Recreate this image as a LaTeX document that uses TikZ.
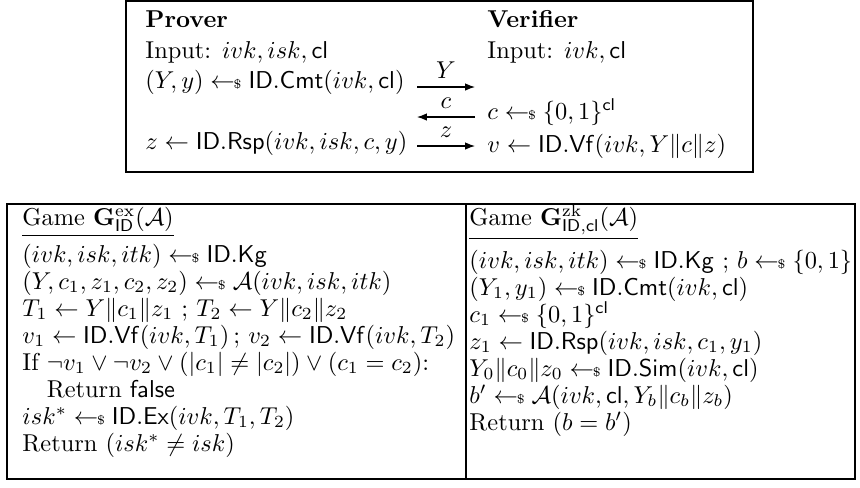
\documentclass[tikz,border=0pt]{standalone}
\usetikzlibrary{positioning,arrows.meta}
\newcommand{\smp}{\mathrel{\leftarrow\!\!{\scriptscriptstyle\$}}}
\newcommand{\alg}[1]{\mathsf{#1}}

\begin{document}
\begin{tikzpicture}[x=0.41pt, y=-0.41pt, >={Latex[length=4pt,width=3pt]},
  ln/.style={anchor=base west, inner sep=0pt},
  msg/.style={->, line width=0.45pt},
  frame/.style={draw, line width=0.5pt}]
  \useasboundingbox (0,0) rectangle (860,487);

  % protocol
  \draw[frame] (126,1) rectangle (753,172);
  \node[ln] (prv) at (145,27) {\textbf{Prover}};
  \node[ln] (pin) at (145,58) {Input: $ivk, isk, \alg{cl}$};
  \node[ln] (pcmt) at (145,88) {$(Y,y) \smp \alg{ID.Cmt}(ivk, \alg{cl})$};
  \node[ln] (prsp) at (145,149) {$z \leftarrow \alg{ID.Rsp}(ivk, isk, c, y)$};
  \node[ln] (vrf) at (487,27) {\textbf{Verifier}};
  \node[ln] (vin) at (487,58) {Input: $ivk, \alg{cl}$};
  \node[ln] (vch) at (487,119) {$c \smp \{0,1\}^{\alg{cl}}$};
  \node[ln] (vvf) at (487,152) {$v \leftarrow \alg{ID.Vf}(ivk, Y \| c \| z)$};
  \coordinate (yl) at (417,87);  \coordinate (yr) at (475,87);
  \coordinate (cl) at (417,117); \coordinate (cr) at (475,117);
  \coordinate (zl) at (417,146); \coordinate (zr) at (475,146);
  \draw[msg] (yl) -- node[above] {$Y$} (yr);
  \draw[msg] (cr) -- node[above] {$c$} (cl);
  \draw[msg] (zl) -- node[above] {$z$} (zr);

  % games
  \draw[frame] (7,204) rectangle (855,479);
  \draw[frame] (466,204) -- (466,479);
  \node[ln] (gex) at (22,225) {\underline{Game $\mathbf{G}^{\mathrm{ex}}_{\alg{ID}}(\mathcal{A})$}};
  \foreach \t [count=\i] in {
    {$(ivk, isk, itk) \smp \alg{ID.Kg}$},
    {$(Y, c_1, z_1, c_2, z_2) \smp \mathcal{A}(ivk, isk, itk)$},
    {$T_1 \leftarrow Y \| c_1 \| z_1$ ; $T_2 \leftarrow Y \| c_2 \| z_2$},
    {$v_1 \leftarrow \alg{ID.Vf}(ivk, T_1)$\,; $v_2 \leftarrow \alg{ID.Vf}(ivk, T_2)$},
    {If $\neg v_1 \vee \neg v_2 \vee (|c_1| \neq |c_2|) \vee (c_1 = c_2)$:},
    {\hspace{1em}Return $\alg{false}$},
    {$isk^* \smp \alg{ID.Ex}(ivk, T_1, T_2)$},
    {Return $(isk^* \neq isk)$}}
    \node[ln] (ex\i) at (22,235+27*\i) {\t};
  \node[ln] (gzk) at (469,225) {\underline{Game $\mathbf{G}^{\mathrm{zk}}_{\alg{ID},\alg{cl}}(\mathcal{A})$}};
  \foreach \t [count=\i] in {
    {$(ivk, isk, itk) \smp \alg{ID.Kg}$ ; $b \smp \{0,1\}$},
    {$(Y_1, y_1) \smp \alg{ID.Cmt}(ivk, \alg{cl})$},
    {$c_1 \smp \{0,1\}^{\alg{cl}}$},
    {$z_1 \leftarrow \alg{ID.Rsp}(ivk, isk, c_1, y_1)$},
    {$Y_0 \| c_0 \| z_0 \smp \alg{ID.Sim}(ivk, \alg{cl})$},
    {$b' \smp \mathcal{A}(ivk, \alg{cl}, Y_b \| c_b \| z_b)$},
    {Return $(b = b')$}}
    \node[ln] (zk\i) at (469,241+27*\i) {\t};
\end{tikzpicture}
\end{document}
